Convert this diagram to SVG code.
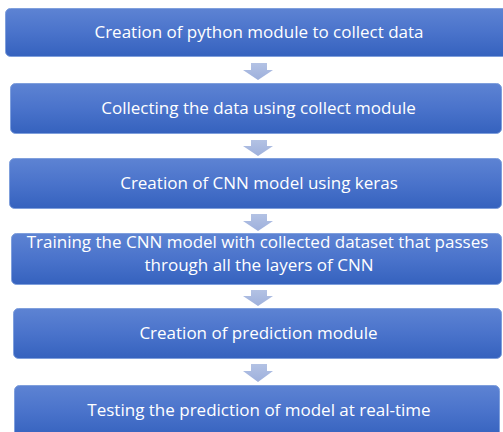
<svg xmlns="http://www.w3.org/2000/svg" width="503" height="432" viewBox="0 0 503 432">
  <defs>
    <linearGradient id="boxFill" x1="0" y1="0" x2="0" y2="1">
      <stop offset="0" stop-color="#5d83d3"/>
      <stop offset="0.5" stop-color="#4a73cb"/>
      <stop offset="1" stop-color="#3562be"/>
    </linearGradient>
    <linearGradient id="arrowFill" x1="0" y1="0" x2="0" y2="1">
      <stop offset="0" stop-color="#b3c2e4"/>
      <stop offset="1" stop-color="#9eb0dc"/>
    </linearGradient>
  </defs>
  <style>
    .box { fill: url(#boxFill); stroke: #7f9fdc; stroke-width: 1; }
    .label { fill: #ffffff; font-family: "Open Sans", "Liberation Sans", sans-serif; font-size: 17px; text-anchor: middle; }
    .arrow { fill: url(#arrowFill); }
  </style>
  <rect width="503" height="432" fill="#ffffff"/>

  <g id="connectors">
    <polygon class="arrow" points="251,63 267,63 267,70 273,70 258,80 243,70 251,70"/>
    <polygon class="arrow" points="251,140 267,140 267,146 273,146 258,156 243,146 251,146"/>
    <polygon class="arrow" points="251,214 267,214 267,221 273,221 258,231 243,221 251,221"/>
    <polygon class="arrow" points="251,290 267,290 267,296 273,296 258,306 243,296 251,296"/>
    <polygon class="arrow" points="251,364 267,364 267,371 273,371 258,382 243,371 251,371"/>
  </g>

  <g id="step1">
    <rect class="box" x="5.5" y="8.5" width="505" height="48" rx="5"/>
    <text class="label" x="259" y="38">Creation of python module to collect data</text>
  </g>
  <g id="step2">
    <rect class="box" x="10.5" y="83.5" width="491" height="50" rx="5"/>
    <text class="label" x="258.5" y="114">Collecting the data using collect module</text>
  </g>
  <g id="step3">
    <rect class="box" x="9.5" y="158.5" width="492" height="50" rx="5"/>
    <text class="label" x="259" y="189">Creation of CNN model using keras</text>
  </g>
  <g id="step4">
    <rect class="box" x="11.5" y="233.5" width="490" height="51" rx="5"/>
    <text class="label" x="257.5" y="248">Training the CNN model with collected dataset that passes</text>
    <text class="label" x="259" y="271">through all the layers of CNN</text>
  </g>
  <g id="step5">
    <rect class="box" x="13.5" y="308.5" width="488" height="50" rx="5"/>
    <text class="label" x="258.5" y="339">Creation of prediction module</text>
  </g>
  <g id="step6">
    <rect class="box" x="14.5" y="385.5" width="485" height="52" rx="5"/>
    <text class="label" x="259" y="416">Testing the prediction of model at real-time</text>
  </g>
</svg>
